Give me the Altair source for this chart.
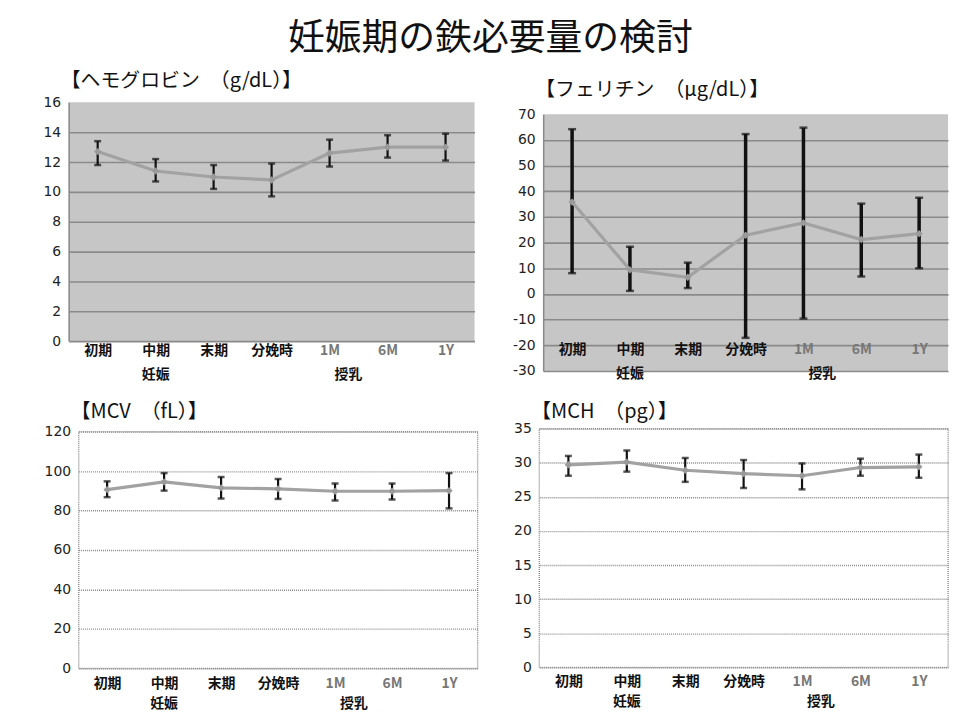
import altair as alt
import pandas as pd

CJK = "Noto Sans CJK JP"
NUM = "DejaVu Sans"

main_title = "妊娠期の鉄必要量の検討"
categories = ["初期", "中期", "末期", "分娩時", "1M", "6M", "1Y"]
group_names = ["妊娠", "授乳"]
group_anchor = ["中期", "1M"]

hb_title = "【ヘモグロビン　（g/dL）】"
hb_mean = [12.7, 11.4, 11.0, 10.8, 12.6, 13.0, 13.0]
hb_low = [11.8, 10.7, 10.2, 9.7, 11.7, 12.3, 12.1]
hb_high = [13.4, 12.2, 11.8, 11.9, 13.5, 13.8, 13.9]

fer_title = "【フェリチン　（μg/dL）】"
fer_mean = [35.8, 9.4, 6.5, 22.9, 27.7, 21.2, 23.5]
fer_low = [8.1, 1.2, 2.3, -17.1, -9.6, 6.8, 10.0]
fer_high = [64.2, 18.4, 12.2, 62.3, 64.8, 35.2, 37.5]

mcv_title = "【MCV　（fL）】"
mcv_mean = [90.6, 94.5, 91.5, 91.0, 89.8, 89.8, 90.1]
mcv_low = [86.8, 90.1, 86.1, 85.9, 85.1, 85.6, 81.1]
mcv_high = [94.8, 99.0, 97.0, 96.0, 93.7, 93.7, 99.0]

mch_title = "【MCH　（pg）】"
mch_mean = [29.7, 30.1, 28.9, 28.4, 28.1, 29.3, 29.4]
mch_low = [28.1, 28.7, 27.2, 26.3, 26.1, 28.1, 27.8]
mch_high = [31.0, 31.8, 30.7, 30.4, 29.9, 30.6, 31.2]


def panel(title, mean, low, high, ymin, ymax, step, w, h, shaded,
          title_offset, xaxis_offset, label_pad, group_dy, bar_w, cap_size):
    df = pd.DataFrame({"cat": categories, "mean": mean, "low": low, "high": high})
    gdf = pd.DataFrame({"cat": group_anchor, "label": group_names})
    ticks = list(range(ymin, ymax + 1, step))

    xscale = alt.Scale(type="point", padding=0.5, domain=categories)
    xaxis = alt.Axis(
        title=None, labelAngle=0, domain=False, ticks=False,
        labelFont=CJK, labelFontSize=14, labelFontWeight="bold", labelOverlap=False,
        labelColor=alt.condition("indexof(['1M','6M','1Y'], datum.value) >= 0",
                                 alt.value("#777777"), alt.value("#111111")),
        labelPadding=label_pad, offset=xaxis_offset,
    )
    x = alt.X("cat:N", sort=categories, scale=xscale, axis=xaxis)

    common = dict(title=None, values=ticks, tickCount=len(ticks) + 2, grid=True, ticks=False,
                  labelOverlap=False, labelFont=NUM, labelFontSize=14, labelColor="#222222",
                  labelPadding=8, labelExpr="'' + datum.value")
    if shaded:
        yaxis = alt.Axis(
            gridColor="#8a8a8a", gridWidth=1.6,
            gridOpacity=alt.condition(f"datum.value >= {ymax}", alt.value(0), alt.value(1)),
            domain=True, domainColor="#8a8a8a", domainWidth=1.5, **common,
        )
        view = alt.ViewBackground(fill="#c6c6c6", stroke="transparent")
    else:
        yaxis = alt.Axis(
            gridColor="#8c8c8c", gridWidth=1.4, gridDash=[1, 1], domain=False, **common,
        )
        view = alt.ViewBackground(fill="white", stroke="#8c8c8c", strokeDash=[1, 1], strokeWidth=1.4)

    yscale = alt.Scale(domain=[ymin, ymax], nice=False, zero=False)
    base = alt.Chart(df)

    bars = base.mark_rule(color="#111111", strokeWidth=bar_w).encode(
        x=x, y=alt.Y("low:Q", scale=yscale, axis=yaxis), y2="high:Q")
    cap_lo = base.mark_tick(color="#111111", size=cap_size, thickness=2.5).encode(
        x=x, y=alt.Y("low:Q", scale=yscale, axis=yaxis))
    cap_hi = base.mark_tick(color="#111111", size=cap_size, thickness=2.5).encode(
        x=x, y=alt.Y("high:Q", scale=yscale, axis=yaxis))
    line = base.mark_line(color="#a2a2a2", strokeWidth=3.2).encode(
        x=x, y=alt.Y("mean:Q", scale=yscale, axis=yaxis))
    pts = base.mark_point(shape="diamond", filled=True, color="#9a9a9a", size=55, opacity=1).encode(
        x=x, y=alt.Y("mean:Q", scale=yscale, axis=yaxis))

    g1 = alt.Chart(gdf).transform_filter(alt.datum.label == group_names[0]).mark_text(
        font=CJK, fontSize=14, fontWeight="bold", color="#111111", baseline="middle"
    ).encode(x=x, y=alt.value(h + group_dy), text="label:N")
    g2 = alt.Chart(gdf).transform_filter(alt.datum.label == group_names[1]).mark_text(
        font=CJK, fontSize=14, fontWeight="bold", color="#111111", baseline="middle", dx=19
    ).encode(x=x, y=alt.value(h + group_dy), text="label:N")

    return alt.layer(bars, cap_lo, cap_hi, line, pts, g1, g2).properties(
        width=w, height=h, view=view,
        title=alt.TitleParams(title, anchor="start", frame="group", font=CJK, fontSize=20,
                              fontWeight="normal", color="#111111", offset=title_offset,
                              dx=-8),
    )


def spacer(h):
    return alt.Chart(pd.DataFrame({"v": [0]})).mark_point(size=0, opacity=0).encode(
        x=alt.value(0), y=alt.value(0)).properties(width=1, height=h)


def wrap(p, extra_top):
    inner = alt.vconcat(spacer(1 + extra_top), p, spacing=0)
    return alt.hconcat(spacer(1), inner, spacing=0)


tl = panel(hb_title, hb_mean, hb_low, hb_high, 0, 16, 2, 408, 240, True,
           4, 0, 2, 34, 2.2, 7)
tr = panel(fer_title, fer_mean, fer_low, fer_high, -30, 70, 10, 407, 258, True,
           7, -32, 3, 3, 3.5, 8)
bl = panel(mcv_title, mcv_mean, mcv_low, mcv_high, 0, 120, 20, 401, 238, False,
           3, 0, 8, 36, 2.2, 7)
br = panel(mch_title, mch_mean, mch_low, mch_high, 0, 35, 5, 411, 240, False,
           0, 0, 7, 35, 2.2, 7)

chart = alt.concat(wrap(tl, 0), wrap(tr, 9), wrap(bl, 0), wrap(br, 0),
                   columns=2, align="each",
                   spacing=alt.RowColnumber(row=18, column=33)).properties(
    title=alt.TitleParams(main_title, fontSize=37, font=CJK, fontWeight="normal",
                          color="#111111", anchor="middle", offset=13, dx=-5),
    padding={"left": 34, "top": 10, "right": 8, "bottom": 4},
).configure_view(strokeWidth=0)

chart.save("out.html", embed_options={"renderer": "svg", "actions": False})
